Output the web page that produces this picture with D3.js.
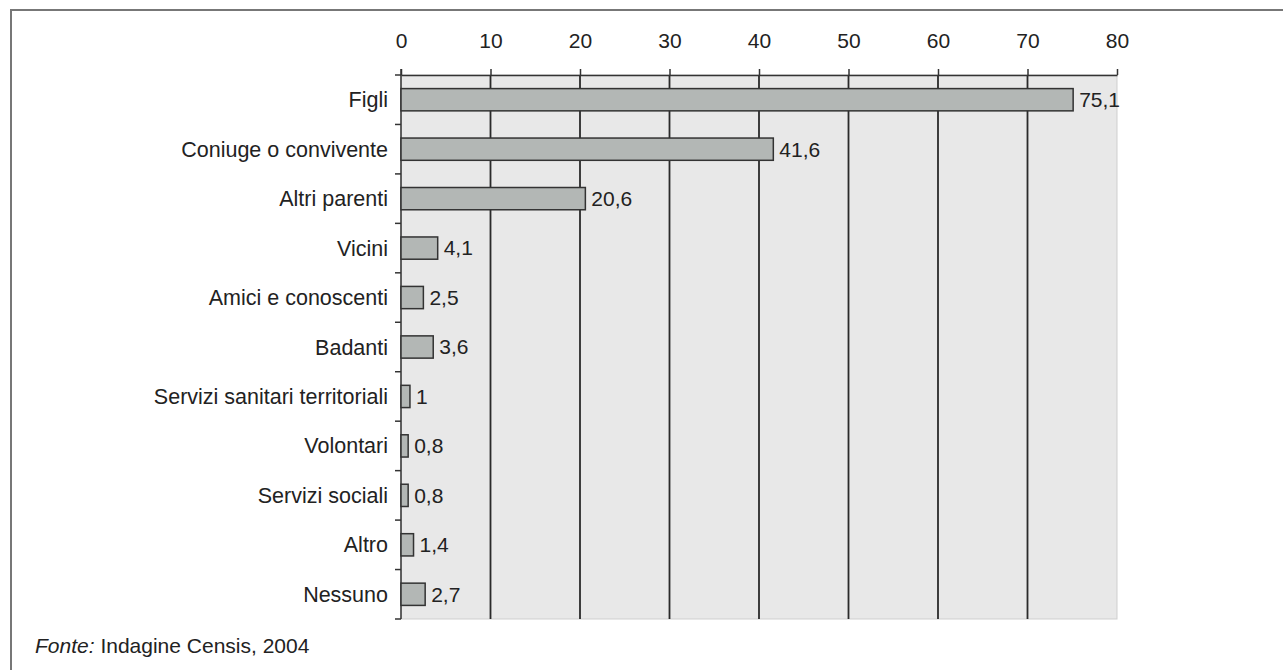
<!DOCTYPE html>
<html>
<head>
<meta charset="utf-8">
<script src="https://cdn.jsdelivr.net/npm/d3@7"></script>
<style>
  body { margin: 0; background: #fff; }
  text { font-family: "Liberation Sans", Arial, sans-serif; fill: #222; }
</style>
</head>
<body>
<script>
// data
const categories = ['Figli', 'Coniuge o convivente', 'Altri parenti', 'Vicini', 'Amici e conoscenti',
  'Badanti', 'Servizi sanitari territoriali', 'Volontari', 'Servizi sociali', 'Altro', 'Nessuno'];
const values = [75.1, 41.6, 20.6, 4.1, 2.5, 3.6, 1, 0.8, 0.8, 1.4, 2.7];
const xTicks = [0, 10, 20, 30, 40, 50, 60, 70, 80];
const source = 'Indagine Censis, 2004';

const width = 1283, height = 670;
const margin = { top: 75, bottom: 51, left: 401, right: 166 };

const svg = d3.select('body').append('svg')
  .attr('width', width).attr('height', height);

// outer frame
svg.append('path')
  .attr('d', `M11,${height} V10 H${width}`)
  .attr('fill', 'none').attr('stroke', '#777').attr('stroke-width', 2);

const xscale = d3.scaleLinear()
  .domain([0, 80])
  .range([margin.left, width - margin.right]);

const yscale = d3.scaleBand()
  .domain(categories)
  .range([margin.top, height - margin.bottom])
  .paddingInner(0.55).paddingOuter(0.275);

// plot background
svg.append('rect')
  .attr('x', xscale(0)).attr('y', margin.top)
  .attr('width', xscale(80) - xscale(0))
  .attr('height', height - margin.bottom - margin.top)
  .attr('fill', '#e8e8e8').attr('stroke', '#cfcfcf');

// vertical grid
svg.append('g').selectAll('line')
  .data(xTicks.slice(1, -1))
  .enter().append('line')
  .attr('x1', d => xscale(d)).attr('x2', d => xscale(d))
  .attr('y1', margin.top).attr('y2', height - margin.bottom)
  .attr('stroke', '#2a2a2a').attr('stroke-width', 1.8);

// top axis
const xaxis = svg.append('g')
  .attr('transform', `translate(0, ${margin.top})`)
  .call(d3.axisTop(xscale).tickValues(xTicks).tickSize(6).tickPadding(21).tickSizeOuter(0));
xaxis.select('.domain').attr('stroke', '#333').attr('stroke-width', 1.5);
xaxis.selectAll('.tick line').attr('stroke', '#333').attr('stroke-width', 1.5);
xaxis.selectAll('text').style('font-size', '21px').attr('fill', '#222')
  .style('font-family', '"Liberation Sans", Arial, sans-serif');

// left axis: line with ticks at band boundaries
const step = yscale.step();
const bounds = d3.range(categories.length + 1).map(i => margin.top + i * step);
svg.append('line')
  .attr('x1', xscale(0)).attr('x2', xscale(0))
  .attr('y1', margin.top - 6).attr('y2', height - margin.bottom)
  .attr('stroke', '#333').attr('stroke-width', 1.5);
svg.append('g').selectAll('line')
  .data(bounds)
  .enter().append('line')
  .attr('x1', xscale(0) - 6).attr('x2', xscale(0))
  .attr('y1', d => d).attr('y2', d => d)
  .attr('stroke', '#333').attr('stroke-width', 1.5);

// category labels
svg.append('g').selectAll('text')
  .data(categories)
  .enter().append('text')
  .attr('x', xscale(0) - 13)
  .attr('y', d => yscale(d) + yscale.bandwidth() / 2)
  .attr('dy', '0.35em')
  .attr('text-anchor', 'end')
  .style('font-size', '21.5px')
  .text(d => d);

// bars
svg.append('g').selectAll('rect')
  .data(values)
  .enter().append('rect')
  .attr('x', xscale(0))
  .attr('y', (d, i) => yscale(categories[i]))
  .attr('width', d => xscale(d) - xscale(0))
  .attr('height', yscale.bandwidth())
  .attr('fill', '#b3b7b5')
  .attr('stroke', '#333').attr('stroke-width', 1.5);

// value labels
svg.append('g').selectAll('text')
  .data(values)
  .enter().append('text')
  .attr('x', d => xscale(d) + 6)
  .attr('y', (d, i) => yscale(categories[i]) + yscale.bandwidth() / 2)
  .attr('dy', '0.35em')
  .style('font-size', '21px')
  .text(d => String(d).replace('.', ','));

// source
const src = svg.append('text')
  .attr('x', 35).attr('y', 653)
  .style('font-size', '21px');
src.append('tspan').style('font-style', 'italic').text('Fonte:');
src.append('tspan').text(' ' + source);
</script>
</body>
</html>
